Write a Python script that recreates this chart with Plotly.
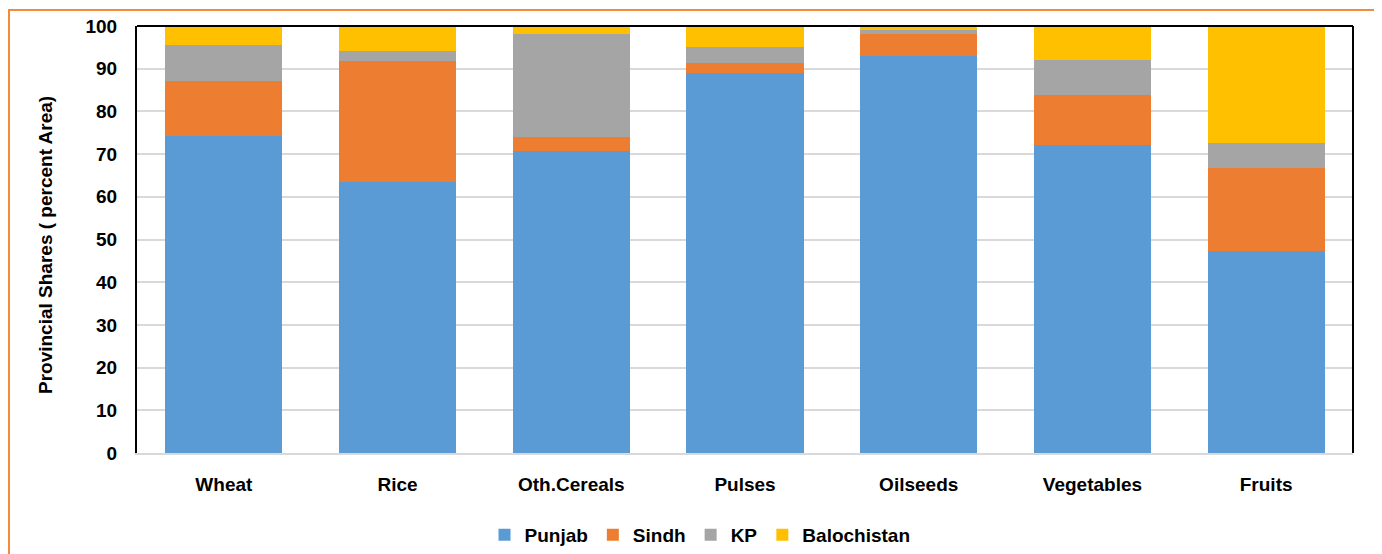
import plotly.graph_objects as go

categories = ["Wheat", "Rice", "Oth.Cereals", "Pulses", "Oilseeds", "Vegetables", "Fruits"]
punjab = [74.3, 63.5, 70.7, 88.9, 92.9, 72.1, 47.3]
sindh = [12.8, 28.3, 3.3, 2.5, 5.2, 11.7, 19.4]
kp = [8.4, 2.3, 24.1, 3.8, 0.9, 8.2, 5.8]
balochistan = [4.5, 5.9, 1.9, 4.8, 1.0, 8.0, 27.5]

series = [
    ("Punjab", punjab, "#5B9BD5"),
    ("Sindh", sindh, "#ED7D31"),
    ("KP", kp, "#A5A5A5"),
    ("Balochistan", balochistan, "#FFC000"),
]

FONT = "Liberation Sans, Arial, sans-serif"
FS = 19

fig = go.Figure()
for name, vals, color in series:
    fig.add_trace(go.Bar(
        x=categories, y=vals, name=name,
        marker=dict(color=color, line=dict(width=0)),
    ))

# page body has an 8px margin; figure fits the remaining window
OFF = 8
W, H = 1382 - OFF, 554 - OFF
L, T = 137 - OFF, 26 - OFF
R = W - (1353 - OFF)
B = H - (453 - OFF)
pw, ph = W - L - R, H - T - B

def px_x(x):
    return (x - OFF - L) / pw

def px_y(y):
    return (H - B - (y - OFF)) / ph

fig.update_layout(
    barmode="stack",
    bargap=0.326,
    width=W, height=H,
    margin=dict(l=L, r=R, t=T, b=B, autoexpand=False),
    paper_bgcolor="white",
    plot_bgcolor="white",
    font=dict(family=FONT, size=FS, color="#000000"),
    showlegend=True,
    legend=dict(
        orientation="h", x=px_x(700), xanchor="center",
        y=px_y(535), yanchor="middle",
        font=dict(family=FONT, size=FS, color="#000000", weight="bold"),
        traceorder="normal",
        itemwidth=30,
    ),
    xaxis=dict(
        showgrid=False,
        showline=True, linecolor="#D9D9D9", linewidth=2,
        ticks="", ticklabelstandoff=13,
        tickfont=dict(family=FONT, size=FS, color="#000000", weight="bold"),
        mirror=False,
    ),
    yaxis=dict(
        range=[0, 100], dtick=10,
        showgrid=True, gridcolor="#D9D9D9", gridwidth=2,
        showline=True, linecolor="#000000", linewidth=2,
        zeroline=False,
        ticks="", ticklabelstandoff=14,
        tickfont=dict(family=FONT, size=FS, color="#000000", weight="bold"),
    ),
    annotations=[
        dict(text="<b>Provincial Shares ( percent Area)</b>", textangle=-90,
             xref="paper", yref="paper", x=px_x(45), y=px_y(245),
             xanchor="center", yanchor="middle", showarrow=False,
             font=dict(family=FONT, size=FS, color="#000000")),
    ],
    shapes=[
        dict(type="line", xref="paper", yref="paper", x0=0, x1=1, y0=1, y1=1,
             line=dict(color="#000000", width=2)),
        dict(type="line", xref="paper", yref="paper", x0=1, x1=1, y0=0, y1=1,
             line=dict(color="#000000", width=2)),
        dict(type="rect", xref="paper", yref="paper",
             x0=px_x(9), x1=px_x(1380), y0=px_y(570), y1=px_y(10),
             line=dict(color="#F28C3C", width=2), layer="above"),
    ],
)

fig.write_html("out.html")
